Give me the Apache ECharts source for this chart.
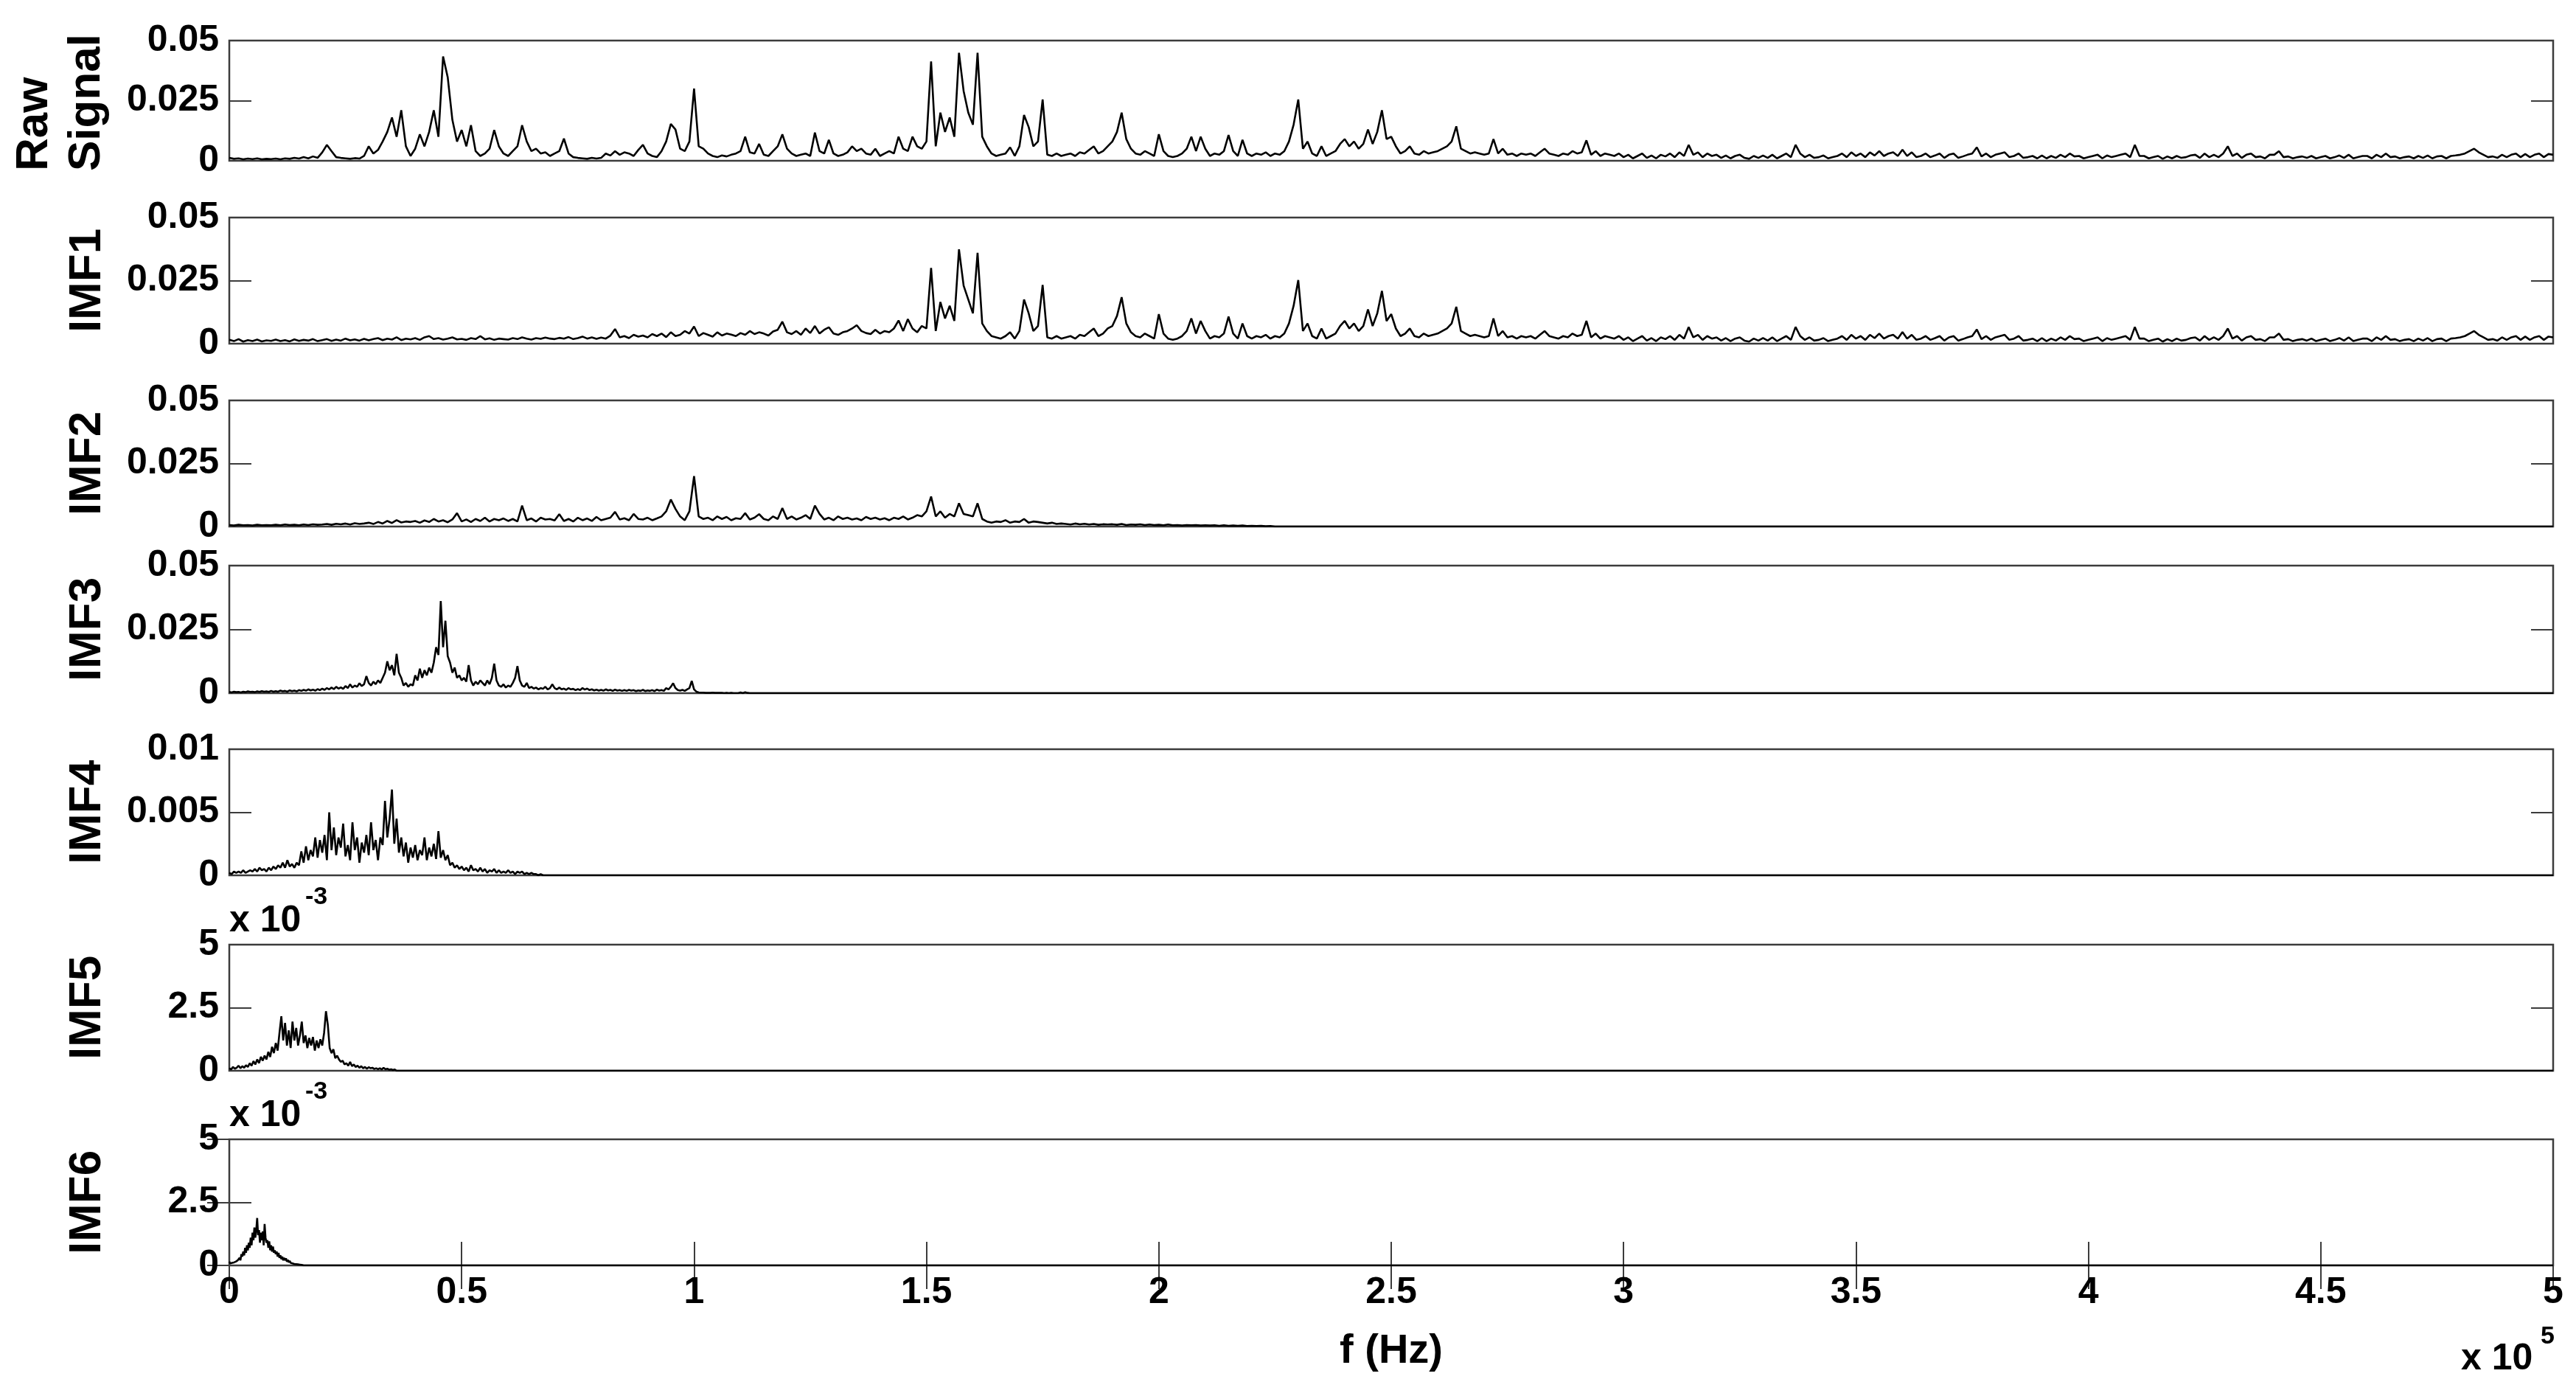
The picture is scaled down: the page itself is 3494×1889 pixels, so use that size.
<!DOCTYPE html>
<html><head><meta charset="utf-8">
<script src="https://cdn.jsdelivr.net/npm/echarts@6/dist/echarts.min.js"></script>
<style>html,body{margin:0;padding:0;background:#fff}#c{width:3494px;height:1889px}</style>
</head><body><div id="c"></div>
<script>
// ---------- DATA (frequency in units of 1e5 Hz) ----------
const panelNames = ['Raw Signal','IMF1','IMF2','IMF3','IMF4','IMF5','IMF6'];
const xMin = 0, xMax = 5, xInterval = 0.5;           // x tick labels 0,0.5,...,5 (x 10^5)
const yMaxes = [0.05,0.05,0.05,0.05,0.01,5,5];        // IMF5/IMF6 in units of 10^-3
const yIntervals = [0.025,0.025,0.025,0.025,0.005,2.5,2.5];

// Raw signal, f = 0.00 .. 2.99 step 0.01
const rawLow = [
.0012,.0008,.0010,.0006,.0009,.0007,.0010,.0006,.0008,.0007,
.0009,.0006,.0010,.0008,.0012,.0009,.0015,.0010,.0018,.0012,
.0035,.0066,.0040,.0015,.0012,.0010,.0008,.0011,.0009,.0020,
.0060,.0030,.0045,.0080,.0120,.0180,.0100,.0210,.0060,.0020,
.0050,.0110,.0060,.0120,.0210,.0100,.0434,.0347,.0170,.0080,
.0128,.0060,.0148,.0040,.0020,.0030,.0050,.0128,.0060,.0030,
.0020,.0040,.0060,.0148,.0080,.0040,.0050,.0030,.0035,.0020,
.0030,.0040,.0092,.0030,.0015,.0012,.0010,.0008,.0012,.0009,
.0012,.0030,.0022,.0040,.0025,.0035,.0030,.0020,.0045,.0066,
.0030,.0020,.0015,.0040,.0080,.0153,.0130,.0050,.0040,.0080,
.0300,.0060,.0050,.0030,.0020,.0015,.0022,.0018,.0025,.0030,
.0040,.0100,.0035,.0030,.0070,.0025,.0020,.0040,.0060,.0110,
.0050,.0030,.0020,.0025,.0030,.0020,.0117,.0040,.0030,.0087,
.0030,.0020,.0025,.0035,.0060,.0040,.0050,.0030,.0025,.0050,
.0020,.0030,.0040,.0030,.0100,.0050,.0040,.0100,.0060,.0050,
.0080,.0413,.0060,.0200,.0120,.0180,.0100,.0449,.0290,.0200,
.0150,.0449,.0100,.0060,.0030,.0020,.0025,.0030,.0056,.0020,
.0060,.0190,.0140,.0060,.0080,.0255,.0025,.0020,.0030,.0020,
.0025,.0030,.0020,.0035,.0030,.0045,.0060,.0030,.0040,.0060,
.0080,.0120,.0200,.0090,.0050,.0030,.0025,.0040,.0030,.0020,
.0110,.0040,.0020,.0015,.0020,.0030,.0050,.0100,.0040,.0100,
.0050,.0020,.0030,.0025,.0040,.0107,.0040,.0020,.0087,.0030,
.0020,.0030,.0025,.0035,.0020,.0030,.0025,.0040,.0080,.0150,
.0255,.0050,.0080,.0030,.0020,.0060,.0020,.0030,.0040,.0070,
.0090,.0060,.0080,.0050,.0070,.0130,.0070,.0120,.0210,.0090,
.0100,.0060,.0030,.0040,.0060,.0030,.0025,.0040,.0030,.0035,
.0040,.0050,.0060,.0080,.0143,.0050,.0040,.0030,.0035,.0030,
.0025,.0030,.0090,.0030,.0050,.0025,.0030,.0020,.0030,.0025,
.0030,.0020,.0035,.0050,.0030,.0025,.0020,.0030,.0025,.0040,
.0030,.0035,.0085,.0025,.0040,.0020,.0030,.0025,.0020,.0030];

// IMF1, f = 0.00 .. 2.99 step 0.01
const imf1Low = [
.0015,.0010,.0018,.0008,.0014,.0010,.0016,.0009,.0013,.0011,
.0016,.0010,.0014,.0009,.0017,.0011,.0015,.0012,.0018,.0010,
.0014,.0018,.0011,.0016,.0012,.0020,.0013,.0017,.0012,.0019,
.0013,.0018,.0022,.0014,.0020,.0016,.0025,.0014,.0020,.0017,
.0022,.0015,.0025,.0030,.0018,.0022,.0016,.0020,.0025,.0017,
.0019,.0015,.0022,.0018,.0030,.0017,.0021,.0015,.0020,.0018,
.0016,.0022,.0018,.0025,.0020,.0016,.0022,.0019,.0024,.0020,
.0018,.0023,.0020,.0026,.0018,.0022,.0028,.0020,.0025,.0019,
.0024,.0020,.0032,.0058,.0025,.0030,.0022,.0035,.0028,.0032,
.0025,.0038,.0030,.0040,.0026,.0045,.0030,.0035,.0050,.0040,
.0068,.0030,.0042,.0035,.0028,.0045,.0032,.0040,.0036,.0030,
.0042,.0035,.0050,.0038,.0045,.0040,.0032,.0048,.0055,.0087,
.0045,.0038,.0050,.0035,.0060,.0042,.0070,.0040,.0055,.0065,
.0040,.0035,.0045,.0050,.0060,.0073,.0050,.0042,.0038,.0055,
.0040,.0050,.0045,.0060,.0092,.0050,.0097,.0060,.0045,.0070,
.0060,.0300,.0050,.0165,.0100,.0150,.0090,.0374,.0230,.0175,
.0120,.0360,.0080,.0050,.0030,.0025,.0020,.0030,.0045,.0020,
.0050,.0175,.0120,.0050,.0070,.0233,.0025,.0020,.0030,.0020,
.0025,.0030,.0020,.0035,.0030,.0045,.0060,.0030,.0040,.0060,
.0070,.0110,.0184,.0080,.0045,.0030,.0025,.0040,.0030,.0020,
.0117,.0040,.0020,.0015,.0020,.0030,.0050,.0100,.0040,.0090,
.0050,.0020,.0030,.0025,.0040,.0107,.0040,.0020,.0080,.0030,
.0020,.0030,.0025,.0035,.0020,.0030,.0025,.0040,.0080,.0150,
.0252,.0050,.0080,.0030,.0020,.0060,.0020,.0030,.0040,.0070,
.0090,.0060,.0080,.0050,.0070,.0136,.0070,.0120,.0209,.0090,
.0117,.0060,.0030,.0040,.0060,.0030,.0025,.0040,.0030,.0035,
.0040,.0050,.0060,.0080,.0146,.0050,.0040,.0030,.0035,.0030,
.0025,.0030,.0100,.0030,.0050,.0025,.0030,.0020,.0030,.0025,
.0030,.0020,.0035,.0050,.0030,.0025,.0020,.0030,.0025,.0040,
.0030,.0035,.0090,.0025,.0040,.0020,.0030,.0025,.0020,.0030];

// High-frequency floor shared by Raw signal and IMF1 (identical there), f = 3.00 .. 5.00 step 0.01
const highFloor = [
.0015,.0025,.0010,.0020,.0030,.0012,.0022,.0010,.0025,.0018,
.0030,.0015,.0035,.0020,.0066,.0025,.0035,.0015,.0030,.0020,
.0025,.0012,.0022,.0010,.0020,.0025,.0012,.0008,.0020,.0012,
.0022,.0012,.0025,.0010,.0020,.0030,.0015,.0066,.0030,.0015,
.0025,.0012,.0015,.0022,.0010,.0015,.0020,.0030,.0015,.0035,
.0020,.0030,.0015,.0035,.0022,.0040,.0020,.0030,.0035,.0020,
.0046,.0020,.0035,.0015,.0020,.0030,.0015,.0022,.0030,.0012,
.0025,.0030,.0012,.0018,.0025,.0030,.0056,.0018,.0030,.0015,
.0025,.0030,.0035,.0015,.0020,.0030,.0012,.0015,.0020,.0010,
.0022,.0010,.0020,.0012,.0025,.0015,.0030,.0018,.0020,.0010,
.0015,.0020,.0025,.0010,.0022,.0015,.0020,.0025,.0030,.0015,
.0066,.0020,.0020,.0010,.0015,.0020,.0008,.0018,.0010,.0020,
.0012,.0015,.0022,.0025,.0012,.0030,.0015,.0025,.0015,.0030,
.0060,.0020,.0030,.0012,.0025,.0030,.0015,.0018,.0010,.0025,
.0025,.0040,.0015,.0018,.0010,.0015,.0018,.0012,.0020,.0010,
.0015,.0020,.0010,.0015,.0022,.0012,.0025,.0010,.0015,.0020,
.0020,.0010,.0025,.0015,.0030,.0015,.0018,.0010,.0015,.0018,
.0010,.0020,.0012,.0022,.0010,.0018,.0020,.0010,.0020,.0022,
.0025,.0030,.0040,.0050,.0035,.0025,.0015,.0018,.0012,.0025,
.0015,.0025,.0030,.0015,.0028,.0015,.0025,.0030,.0015,.0028,
.0025];

// IMF2, f = 0.00 .. 2.25 step 0.01 (zero beyond)
const imf2Vals = [
.0006,.0004,.0007,.0005,.0006,.0004,.0007,.0005,.0006,.0005,
.0007,.0005,.0008,.0006,.0007,.0005,.0008,.0006,.0009,.0007,
.0008,.0010,.0007,.0011,.0009,.0012,.0008,.0013,.0010,.0012,
.0015,.0010,.0018,.0012,.0022,.0014,.0025,.0016,.0020,.0018,
.0022,.0015,.0024,.0018,.0030,.0020,.0025,.0017,.0028,.0053,
.0020,.0028,.0018,.0030,.0022,.0035,.0020,.0030,.0025,.0032,
.0022,.0030,.0020,.0083,.0025,.0032,.0020,.0035,.0028,.0030,
.0024,.0049,.0022,.0030,.0020,.0035,.0025,.0032,.0022,.0038,
.0025,.0030,.0035,.0058,.0028,.0033,.0025,.0050,.0030,.0028,
.0035,.0025,.0032,.0040,.0060,.0107,.0070,.0040,.0025,.0060,
.0200,.0040,.0030,.0035,.0025,.0040,.0030,.0038,.0025,.0033,
.0030,.0053,.0028,.0035,.0049,.0030,.0025,.0040,.0030,.0073,
.0030,.0040,.0028,.0035,.0045,.0030,.0083,.0050,.0028,.0035,
.0025,.0040,.0030,.0035,.0028,.0032,.0025,.0038,.0030,.0035,
.0028,.0033,.0025,.0035,.0030,.0040,.0028,.0035,.0045,.0040,
.0060,.0119,.0040,.0060,.0035,.0050,.0040,.0092,.0050,.0045,
.0040,.0092,.0030,.0020,.0015,.0020,.0018,.0025,.0015,.0020,
.0018,.0030,.0015,.0020,.0018,.0015,.0012,.0015,.0010,.0012,
.0010,.0008,.0012,.0009,.0011,.0008,.0010,.0007,.0009,.0008,
.0009,.0007,.0010,.0006,.0008,.0007,.0009,.0006,.0008,.0006,
.0007,.0005,.0008,.0005,.0006,.0004,.0006,.0005,.0006,.0004,
.0005,.0004,.0005,.0003,.0005,.0003,.0004,.0003,.0004,.0002,
.0003,.0002,.0003,.0001,.0002,0];

// IMF3, f = 0.000 .. 1.120 step 0.005 (zero beyond)
const imf3Vals = [
.0005,.0003,.0006,.0004,.0005,.0003,.0006,.0004,.0007,.0005,
.0006,.0004,.0007,.0005,.0008,.0006,.0007,.0005,.0009,.0006,
.0008,.0006,.0010,.0007,.0009,.0006,.0011,.0008,.0010,.0007,
.0012,.0009,.0013,.0010,.0015,.0011,.0014,.0010,.0016,.0012,
.0018,.0013,.0020,.0015,.0022,.0016,.0025,.0018,.0023,.0017,
.0028,.0020,.0035,.0022,.0030,.0025,.0039,.0028,.0035,.0067,
.0040,.0030,.0045,.0035,.0050,.0040,.0060,.0080,.0125,.0090,
.0110,.0070,.0154,.0080,.0060,.0030,.0040,.0025,.0035,.0030,
.0070,.0050,.0096,.0060,.0090,.0070,.0100,.0080,.0120,.0180,
.0150,.0361,.0180,.0284,.0145,.0120,.0080,.0100,.0060,.0070,
.0050,.0060,.0045,.0110,.0050,.0030,.0045,.0035,.0050,.0040,
.0030,.0050,.0035,.0060,.0116,.0050,.0030,.0025,.0035,.0022,
.0030,.0025,.0040,.0060,.0106,.0050,.0030,.0025,.0040,.0020,
.0025,.0018,.0022,.0015,.0020,.0017,.0025,.0015,.0020,.0035,
.0020,.0015,.0022,.0015,.0018,.0013,.0020,.0015,.0017,.0012,
.0016,.0012,.0020,.0014,.0018,.0012,.0015,.0011,.0014,.0010,
.0013,.0010,.0015,.0011,.0013,.0009,.0014,.0010,.0012,.0009,
.0012,.0009,.0013,.0010,.0012,.0008,.0011,.0009,.0013,.0008,
.0011,.0009,.0012,.0008,.0014,.0010,.0012,.0009,.0020,.0015,
.0025,.0039,.0020,.0012,.0010,.0013,.0009,.0015,.0020,.0048,
.0015,.0006,.0003,.0002,.0002,.0001,.0001,.0001,.0002,.0001,
.0001,.0001,.0001,0,.0001,0,.0001,0,0,0,
.0003,0,.0004,.0001,0];

// IMF4, f = 0.000 .. 0.680 step 0.005 (zero beyond)
const imf4Vals = [
.0002,.0001,.0003,.0002,.0003,.0002,.0004,.0002,.0003,.0004,
.0003,.0005,.0003,.0006,.0004,.0005,.0003,.0006,.0004,.0007,
.0005,.0008,.0006,.0010,.0006,.0012,.0007,.0009,.0006,.0010,
.0008,.0019,.0010,.0023,.0012,.0020,.0015,.0030,.0014,.0028,
.0018,.0032,.0012,.0050,.0020,.0038,.0016,.0030,.0022,.0041,
.0015,.0024,.0012,.0042,.0020,.0030,.0010,.0026,.0018,.0032,
.0016,.0042,.0020,.0028,.0012,.0030,.0024,.0059,.0030,.0045,
.0068,.0025,.0045,.0018,.0030,.0015,.0026,.0010,.0022,.0014,
.0024,.0012,.0020,.0016,.0030,.0012,.0022,.0015,.0025,.0013,
.0035,.0014,.0020,.0012,.0016,.0008,.0010,.0006,.0008,.0005,
.0007,.0004,.0006,.0003,.0008,.0004,.0005,.0003,.0006,.0003,
.0005,.0002,.0004,.0003,.0005,.0002,.0004,.0002,.0003,.0002,
.0004,.0002,.0003,.0001,.0003,.0002,.0003,.0001,.0002,.0001,
.0002,.0001,.0001,0,.0001,0,0];

// IMF5 (x 10^-3), f = 0.000 .. 0.360 step 0.004 (zero beyond)
const imf5Vals = [
.10,.05,.15,.08,.12,.20,.10,.18,.12,.22,
.15,.30,.20,.38,.25,.45,.30,.55,.40,.60,
.45,.75,.55,.95,.70,1.1,.80,1.5,2.16,1.2,
1.9,1.0,1.6,.90,1.95,1.2,1.7,1.0,1.4,1.95,
1.1,1.4,.90,1.3,1.0,1.34,.80,1.2,.90,1.25,
1.0,1.5,2.36,1.82,.90,.70,.85,.50,.60,.45,
.35,.40,.25,.30,.20,.35,.18,.25,.15,.20,
.12,.18,.10,.15,.08,.14,.10,.12,.07,.10,
.06,.10,.05,.12,.06,.08,.04,.06,.03,.05,
0];

// IMF6 (x 10^-3), f = 0.000 .. 0.160 step 0.002 (zero beyond)
const imf6Vals = [
.15,.08,.05,.10,.06,.12,.08,.15,.10,.20,
.15,.30,.20,.45,.35,.55,.40,.70,.50,.80,
.60,.90,.70,1.1,.80,1.3,1.0,1.5,1.1,1.4,
1.88,1.2,1.4,.90,1.3,1.0,1.35,.80,1.64,1.1,
.90,1.0,.70,.95,.60,.80,.55,.75,.50,.60,
.45,.55,.35,.50,.30,.40,.25,.35,.20,.30,
.20,.28,.15,.22,.12,.18,.10,.14,.08,.12,
.06,.10,.05,.08,.04,.06,.03,.04,.02,.02,
0];

// ---------- LAYOUT ----------
const plotLeft = 311, plotWidth = 3152;
const gridTops = [55,295,543,767,1016,1281,1545];
const gridHeights = [163,171,171,173,171,171,171];
const FONT = '"Liberation Sans", Arial, Helvetica, sans-serif';
const boxColor = '#3c3c3c';

function pairs(vals, step, start) {
  return vals.map((v, i) => [+(start + i * step).toFixed(4), v]);
}
const seriesData = [
  pairs(rawLow, 0.01, 0).concat(pairs(highFloor, 0.01, 3)),
  pairs(imf1Low, 0.01, 0).concat(pairs(highFloor, 0.01, 3)),
  pairs(imf2Vals, 0.01, 0).concat([[xMax, 0]]),
  pairs(imf3Vals, 0.005, 0).concat([[xMax, 0]]),
  pairs(imf4Vals, 0.005, 0).concat([[xMax, 0]]),
  pairs(imf5Vals, 0.004, 0).concat([[xMax, 0]]),
  pairs(imf6Vals, 0.002, 0).concat([[xMax, 0]])
];

const grid = [], xAxis = [], yAxis = [], series = [];
const last = panelNames.length - 1;
panelNames.forEach((name, i) => {
  grid.push({left: plotLeft, width: plotWidth, top: gridTops[i], height: gridHeights[i],
    show: true, borderColor: boxColor, borderWidth: 2.5, backgroundColor: 'transparent'});
  const tickStyle = {inside: true, length: 32, lineStyle: {color: boxColor, width: 2}};
  if (i === last) {
    xAxis.push({gridIndex: i, type: 'value', min: xMin, max: xMax, interval: xInterval,
      axisLine: {show: false}, splitLine: {show: false}, axisTick: tickStyle,
      axisLabel: {show: true, margin: 12, color: '#000', fontFamily: FONT, fontWeight: 'bold', fontSize: 50}});
    xAxis.push({gridIndex: i, type: 'value', position: 'top', min: xMin, max: xMax, interval: xInterval,
      axisLine: {show: false}, splitLine: {show: false}, axisTick: tickStyle, axisLabel: {show: false}});
  } else {
    xAxis.push({gridIndex: i, type: 'value', min: xMin, max: xMax, interval: xInterval, show: false});
  }
  const yTick = {inside: true, length: 30, lineStyle: {color: boxColor, width: 2}};
  yAxis.push({gridIndex: i, type: 'value', min: 0, max: yMaxes[i], interval: yIntervals[i],
    axisLine: {show: false}, splitLine: {show: false}, axisTick: yTick,
    axisLabel: {margin: 14, color: '#000', fontFamily: FONT, fontWeight: 'bold', fontSize: 50}});
  yAxis.push({gridIndex: i, type: 'value', position: 'right', min: 0, max: yMaxes[i], interval: yIntervals[i],
    axisLine: {show: false}, splitLine: {show: false}, axisTick: yTick, axisLabel: {show: false}});
  const xIdx = (i === last) ? xAxis.length - 2 : xAxis.length - 1;
  series.push({type: 'line', xAxisIndex: xIdx, yAxisIndex: yAxis.length - 2,
    data: seriesData[i], showSymbol: false, symbol: 'none', clip: true,
    lineStyle: {color: '#000', width: 2.6}, z: 3});
});

// ---------- TEXT ----------
function txt(text, x, y, size, opts) {
  opts = opts || {};
  return {type: 'text', x: x, y: y, rotation: opts.rot || 0, z: 10,
    style: {text: text, fill: '#000', font: 'bold ' + size + 'px ' + FONT,
      textAlign: opts.align || 'center', align: opts.align || 'center',
      textVerticalAlign: 'middle', verticalAlign: 'middle'}};
}
const graphic = [];
const R = Math.PI / 2;
graphic.push(txt('Raw', 47, 232, 62, {rot: R, align: 'left'}));
graphic.push(txt('Signal', 118, 232, 62, {rot: R, align: 'left'}));
for (let i = 1; i < panelNames.length; i++) {
  graphic.push(txt(panelNames[i], 119, gridTops[i] + gridHeights[i] / 2, 62, {rot: R}));
}
// x 10^-3 multipliers above IMF5 and IMF6
[5, 6].forEach(i => {
  graphic.push(txt('x 10', 311, gridTops[i] - 32, 50, {align: 'left'}));
  graphic.push(txt('-3', 414, gridTops[i] - 64, 34, {align: 'left'}));
});
graphic.push(txt('f (Hz)', plotLeft + plotWidth / 2, 1833, 56));
graphic.push(txt('x 10', 3338, 1843, 50, {align: 'left'}));
graphic.push(txt('5', 3446, 1813, 34, {align: 'left'}));

const chart = echarts.init(document.getElementById('c'), null, {renderer: 'canvas'});
chart.setOption({animation: false, backgroundColor: '#fff', grid, xAxis, yAxis, series, graphic});
</script></body></html>
